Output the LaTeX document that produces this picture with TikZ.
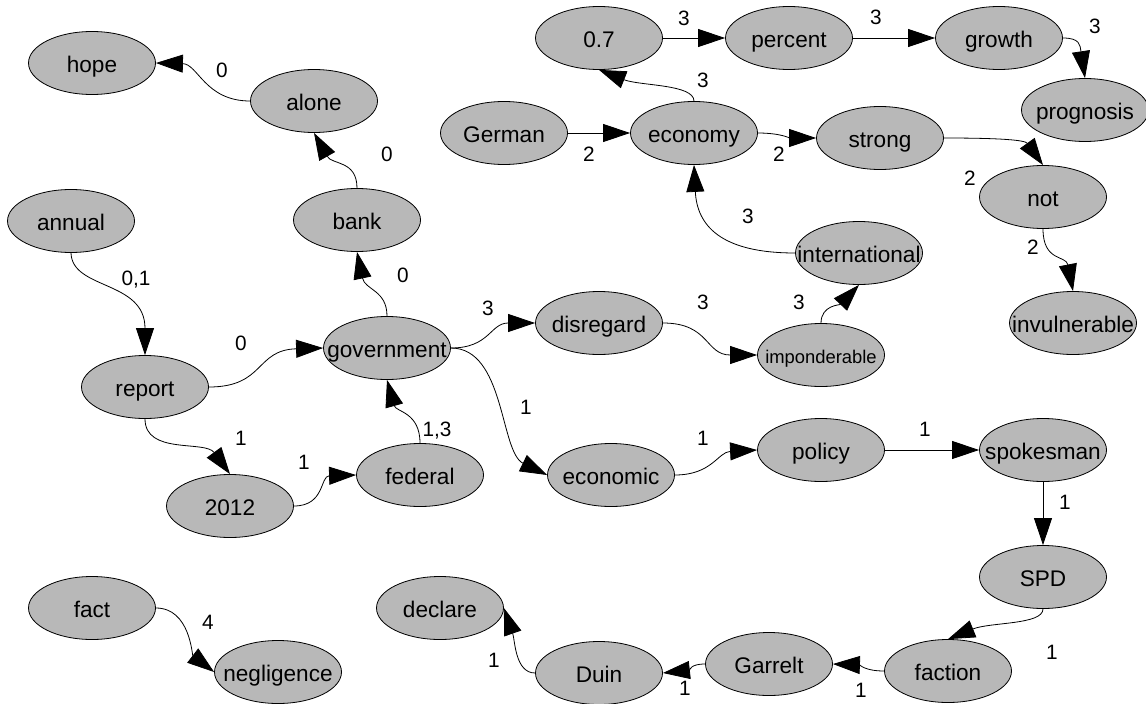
\documentclass[tikz,border=0pt]{standalone}
\usepackage{fontspec}
\setmainfont{Liberation Sans}
\usetikzlibrary{shapes.geometric,arrows.meta}
\definecolor{nodegray}{RGB}{184,184,184}
\newcommand{\ctext}[1]{\makebox[0pt]{#1}}
\begin{document}
\begin{tikzpicture}[x=1pt,y=-1pt,
  nd/.style={ellipse, draw=black, fill=nodegray, line width=0.8pt,
    minimum width=127pt, minimum height=63pt, inner sep=0pt,
    text height=22pt, text depth=4pt,
    font=\fontsize{22.6}{27}\selectfont},
  small/.style={font=\fontsize{18.4}{22}\selectfont, text height=20pt, text depth=3pt},
  lbl/.style={inner sep=0pt, font=\fontsize{20.8}{25}\selectfont},
  link/.style={draw=black, line width=0.8pt, -{Triangle[length=27pt,width=18pt]}}]
\fill[white] (0,0) rectangle (1146,704);
\useasboundingbox (0,0) rectangle (1146,704);

% nodes
\node[nd] (hope) at (92,63) {\ctext{hope}};
\node[nd] (alone) at (314,101) {\ctext{alone}};
\node[nd] (bank) at (357,220) {\ctext{bank}};
\node[nd] (annual) at (71,221) {\ctext{annual}};
\node[nd] (report) at (145,387) {\ctext{report}};
\node[nd] (government) at (387,348) {\ctext{government}};
\node[nd] (y2012) at (230,506) {\ctext{2012}};
\node[nd] (federal) at (420,475) {\ctext{federal}};
\node[nd] (disregard) at (599,323) {\ctext{disregard}};
\node[nd,small] (imponderable) at (821,355) {\ctext{imponderable}};
\node[nd] (international) at (859,253) {\ctext{international}};
\node[nd] (economic) at (611,475) {\ctext{economic}};
\node[nd] (policy) at (821,450) {\ctext{policy}};
\node[nd] (spokesman) at (1043,450) {\ctext{spokesman}};
\node[nd] (SPD) at (1043,577) {\ctext{SPD}};
\node[nd] (faction) at (948,671) {\ctext{faction}};
\node[nd] (Garrelt) at (769,664) {\ctext{Garrelt}};
\node[nd] (Duin) at (599,673) {\ctext{Duin}};
\node[nd] (declare) at (440,608) {\ctext{declare}};
\node[nd] (fact) at (92,608) {\ctext{fact}};
\node[nd] (negligence) at (278,672) {\ctext{negligence}};
\node[nd] (n07) at (599,38) {\ctext{0.7}};
\node[nd] (percent) at (789,38) {\ctext{percent}};
\node[nd] (growth) at (999,38) {\ctext{growth}};
\node[nd] (prognosis) at (1085,110) {\ctext{prognosis}};
\node[nd] (German) at (504,133) {\ctext{German}};
\node[nd] (economy) at (694,133) {\ctext{economy}};
\node[nd] (strong) at (880,138) {\ctext{strong}};
\node[nd] (not) at (1043,197) {\ctext{not}};
\node[nd] (invulnerable) at (1073,323) {\ctext{invulnerable}};

% connectors
\draw[link] (alone.west) .. controls (205,101) and (198,64) .. (hope.east);
\draw[link] (bank.north) .. controls (357,160) and (332,165) .. (alone.south);
\draw[link] (annual.south) .. controls (72,290) and (145,280) .. (report.north);
\draw[link] (report.east) .. controls (265,387) and (255,350) .. (government.west);
\draw[link] (report.south) .. controls (145,455) and (205,440) .. (y2012.north);
\draw[link] (y2012.east) .. controls (325,506) and (320,476) .. (federal.west);
\draw[link] (federal.north) .. controls (420,412) and (396,412) .. (government.south);
\draw[link] (government.north) .. controls (387,290) and (365,290) .. (bank.south);
\draw[link] (government.east) .. controls (490,348) and (490,323) .. (disregard.west);
\draw[link] (government.east) .. controls (505,348) and (500,452) .. (economic.west);
\draw[link] (disregard.east) .. controls (710,323) and (705,355) .. (imponderable.west);
\draw[link] (imponderable.north) .. controls (821,305) and (840,305) .. (international.south);
\draw[link] (international.west) .. controls (720,253) and (697,225) .. (economy.south);
\draw[link] (German.east) -- (economy.west);
\draw[link] (economy.north) .. controls (694,84) and (640,86) .. (n07.south);
\draw[link] (n07.east) -- (percent.west);
\draw[link] (percent.east) -- (growth.west);
\draw[link] (growth.east) .. controls (1080,38) and (1080,45) .. (prognosis.north);
\draw[link] (economy.east) .. controls (780,133) and (790,138) .. (strong.west);
\draw[link] (strong.east) .. controls (1000,138) and (1025,140) .. (not.north);
\draw[link] (not.south) .. controls (1043,262) and (1066,255) .. (invulnerable.north);
\draw[link] (economic.east) .. controls (712,475) and (718,452) .. (policy.west);
\draw[link] (policy.east) -- (spokesman.west);
\draw[link] (spokesman.south) -- (SPD.north);
\draw[link] (SPD.south) .. controls (1043,625) and (990,622) .. (faction.north);
\draw[link] (faction.west) .. controls (865,671) and (860,665) .. (Garrelt.east);
\draw[link] (Garrelt.west) .. controls (690,664) and (690,670) .. (Duin.east);
\draw[link] (Duin.west) .. controls (515,673) and (515,640) .. (declare.east);
\draw[link] (fact.east) .. controls (190,608) and (192,655) .. (negligence.west);

% connector labels
\node[lbl] (l-alone-hope) at (222,70) {0};
\node[lbl] (l-bank-alone) at (387,154) {0};
\node[lbl] (l-annual-report) at (136,280) {0,1};
\node[lbl] (l-report-gov) at (241,343) {0};
\node[lbl] (l-report-2012) at (241,438) {1};
\node[lbl] (l-2012-federal) at (304,462) {1};
\node[lbl] (l-federal-gov) at (437,431) {1,3};
\node[lbl] (l-gov-bank) at (403,275) {0};
\node[lbl] (l-gov-disregard) at (488,308) {3};
\node[lbl] (l-gov-economic) at (526,407) {1};
\node[lbl] (l-disregard-imp) at (703,302) {3};
\node[lbl] (l-imp-intl) at (799,302) {3};
\node[lbl] (l-intl-economy) at (748,216) {3};
\node[lbl] (l-german-economy) at (589,154) {2};
\node[lbl] (l-economy-07) at (703,80) {3};
\node[lbl] (l-07-percent) at (684,18) {3};
\node[lbl] (l-percent-growth) at (876,17) {3};
\node[lbl] (l-growth-prognosis) at (1095,26) {3};
\node[lbl] (l-economy-strong) at (779,154) {2};
\node[lbl] (l-strong-not) at (970,178) {2};
\node[lbl] (l-not-invul) at (1033,247) {2};
\node[lbl] (l-economic-policy) at (703,438) {1};
\node[lbl] (l-policy-spokesman) at (925,429) {1};
\node[lbl] (l-spokesman-spd) at (1065,502) {1};
\node[lbl] (l-spd-faction) at (1052,652) {1};
\node[lbl] (l-faction-garrelt) at (861,690) {1};
\node[lbl] (l-garrelt-duin) at (685,688) {1};
\node[lbl] (l-duin-declare) at (494,660) {1};
\node[lbl] (l-fact-negligence) at (208,622) {4};
\end{tikzpicture}
\end{document}
